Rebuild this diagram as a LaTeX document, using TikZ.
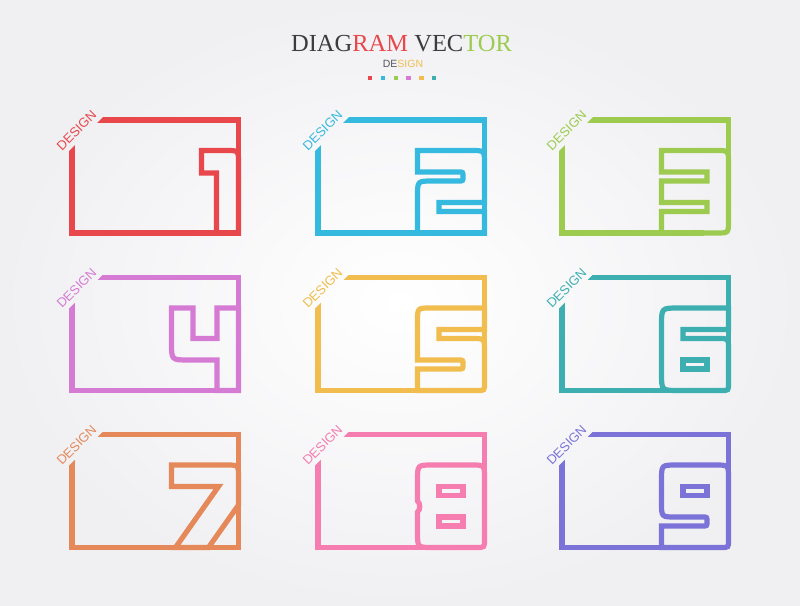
\documentclass[tikz,border=0pt]{standalone}
\usepackage{fontspec}
\setmainfont{Liberation Serif}
\newfontfamily\sansf{Liberation Sans}
\definecolor{c1}{RGB}{232,71,75}
\definecolor{c2}{RGB}{54,185,222}
\definecolor{c3}{RGB}{156,203,79}
\definecolor{c4}{RGB}{213,123,211}
\definecolor{c5}{RGB}{240,189,78}
\definecolor{c6}{RGB}{61,175,176}
\definecolor{c7}{RGB}{229,137,90}
\definecolor{c8}{RGB}{245,125,175}
\definecolor{c9}{RGB}{123,115,215}
\definecolor{tgray}{RGB}{60,60,62}
\definecolor{sgray}{RGB}{85,85,90}
\definecolor{bgout}{RGB}{240,240,243}
\tikzset{
  fr/.style={line width=5.2pt},
  gl/.style={line width=5.2pt, line join=miter},
  lbl/.style={font=\sansf\fontsize{13}{13}\selectfont, rotate=45, inner sep=0pt},
  sq/.style={minimum size=4.5pt, inner sep=0pt, outer sep=0pt, draw=none}
}
\newcommand\frameSq{%
  \begin{scope}
    \clip (-10,38) -- (38,-10) -- (180,-10) -- (180,125) -- (-10,125) -- cycle;
    \draw[fr] (0,20) -- (0,113) -- (166.5,113) -- (166.5,0) -- (20,0);
  \end{scope}}
\newcommand\frameRd{%
  \begin{scope}
    \clip (-10,38) -- (38,-10) -- (180,-10) -- (180,125) -- (-10,125) -- cycle;
    \draw[fr] (0,20) -- (0,113) -- (141.5,113);
    \draw[fr] (166.5,88) -- (166.5,0) -- (20,0);
  \end{scope}}
\begin{document}
\begin{tikzpicture}[x=1pt,y=-1pt]
\useasboundingbox (0,0) rectangle (800,605);
\shade[inner color=white, outer color=bgout] (0,0) rectangle (800,605);

% title
\node[anchor=base, inner sep=0pt] (title) at (401.5,51.7)
  {\fontsize{24.5}{24.5}\selectfont\color{tgray}DIAG\color{c1}RAM \color{tgray}VEC\color{c3}TOR};
\node[anchor=base, inner sep=0pt] (sub) at (403,67.7)
  {\sansf\fontsize{10.5}{10.5}\selectfont\color{sgray}DE\color{c5}SIGN};
\node[sq, fill=c1] (s1) at (370,78) {};
\node[sq, fill=c2] (s2) at (383,78) {};
\node[sq, fill=c3] (s3) at (396,78) {};
\node[sq, fill=c4] (s4) at (408.7,78) {};
\node[sq, fill=c5] (s5) at (421.3,78) {};
\node[sq, fill=c6] (s6) at (434,78) {};

% ---- box 1
\begin{scope}[shift={(72,120)}, draw=c1, text=c1]
  \frameSq
  \begin{scope}[shift={(129.5,30.5)}]
    \draw[gl] (0,0) -- (25,0) .. controls (37,0) .. (37,12) -- (37,82.5) -- (15,82.5) -- (15,22.5) -- (0,22.5) -- cycle;
  \end{scope}
  \node[lbl] (d1) at (4.5,10.5) {DESIGN};
\end{scope}

% ---- box 2
\begin{scope}[shift={(318,120)}, draw=c2, text=c2]
  \frameSq
  \begin{scope}[shift={(99.5,30.5)}]
    \draw[gl] (0,0) -- (54,0) .. controls (67,0) .. (67,13) -- (67,52) -- (21.5,52) -- (21.5,61) -- (67,61) -- (67,82.5) -- (5,82.5) .. controls (0,82.5) .. (0,77.5) -- (0,45.5) .. controls (0,30.5) .. (15,30.5) -- (41,30.5) .. controls (45.5,30.5) .. (45.5,26) .. controls (45.5,21.5) .. (41,21.5) -- (0,21.5) -- cycle;
  \end{scope}
  \node[lbl] (d2) at (4.5,10.5) {DESIGN};
\end{scope}

% ---- box 3
\begin{scope}[shift={(562,120)}, draw=c3, text=c3]
  \frameRd
  \begin{scope}[shift={(99.5,30.5)}]
    \draw[gl] (0,0) -- (55,0) .. controls (67,0) .. (67,12) -- (67,70.5) .. controls (67,82.5) .. (55,82.5) -- (0,82.5) -- (0,61) -- (45.5,61) -- (45.5,52) -- (0,52) -- (0,30.5) -- (45.5,30.5) -- (45.5,21.5) -- (0,21.5) -- cycle;
  \end{scope}
  \node[lbl] (d3) at (4.5,10.5) {DESIGN};
\end{scope}

% ---- box 4
\begin{scope}[shift={(72,277.5)}, draw=c4, text=c4]
  \frameSq
  \begin{scope}[shift={(99.5,30.5)}]
    \draw[gl] (0,0) -- (21.5,0) -- (21.5,30.5) -- (45.5,30.5) -- (45.5,0) -- (67,0) -- (67,82.5) -- (45.5,82.5) -- (45.5,52) -- (17,52) .. controls (0,52) .. (0,35) -- cycle;
  \end{scope}
  \node[lbl] (d4) at (4.5,10.5) {DESIGN};
\end{scope}

% ---- box 5
\begin{scope}[shift={(318,277.5)}, draw=c5, text=c5]
  \frameRd
  \begin{scope}[shift={(99.5,30.5)}]
    \draw[gl] (0,30) -- (0,13) .. controls (0,0) .. (13,0) -- (67,0) -- (67,21.5) -- (21.5,21.5) -- (21.5,30.5) -- (55,30.5) .. controls (67,30.5) .. (67,42.5) -- (67,75.5) .. controls (67,82.5) .. (60,82.5) -- (0,82.5) -- (0,61) -- (41,61) .. controls (45.5,61) .. (45.5,56.5) .. controls (45.5,52) .. (41,52) -- (0,52) -- cycle;
  \end{scope}
  \node[lbl] (d5) at (4.5,10.5) {DESIGN};
\end{scope}

% ---- box 6
\begin{scope}[shift={(562,277.5)}, draw=c6, text=c6]
  \frameRd
  \begin{scope}[shift={(99.5,30.5)}]
    \draw[gl] (0,30) -- (0,17) .. controls (0,0) .. (17,0) -- (67,0) -- (67,21.5) -- (21.5,21.5) -- (21.5,30.5) -- (57,30.5) .. controls (67,30.5) .. (67,40.5) -- (67,75.5) .. controls (67,82.5) .. (60,82.5) -- (17,82.5) .. controls (0,82.5) .. (0,65.5) -- cycle;
    \draw[gl] (21.5,52) rectangle (45.5,61);
  \end{scope}
  \node[lbl] (d6) at (4.5,10.5) {DESIGN};
\end{scope}

% ---- box 7
\begin{scope}[shift={(72,434.5)}, draw=c7, text=c7]
  \frameSq
  \begin{scope}[shift={(99.5,30.5)}]
    \draw[gl] (0,0) -- (55,0) .. controls (67,0) .. (67,12) -- (67,40) -- (37,82.5) -- (4,82.5) -- (47,21.5) -- (0,21.5) -- cycle;
  \end{scope}
  \node[lbl] (d7) at (4.5,10.5) {DESIGN};
\end{scope}

% ---- box 8
\begin{scope}[shift={(318,434.5)}, draw=c8, text=c8]
  \frameRd
  \begin{scope}[shift={(99.5,30.5)}]
    \draw[gl] (0,25) -- (0,15) .. controls (0,0) .. (15,0) -- (54,0) .. controls (67,0) .. (67,13) -- (67,74.5) .. controls (67,82.5) .. (59,82.5) -- (15,82.5) .. controls (0,82.5) .. (0,67.5) -- (0,47) .. controls (3,45) and (3,38) .. (0,36) -- cycle;
    \draw[gl] (21.5,21.5) rectangle (45.5,30.5);
    \draw[gl] (21.5,52) rectangle (45.5,61);
  \end{scope}
  \node[lbl] (d8) at (4.5,10.5) {DESIGN};
\end{scope}

% ---- box 9
\begin{scope}[shift={(562,434.5)}, draw=c9, text=c9]
  \frameRd
  \begin{scope}[shift={(99.5,30.5)}]
    \draw[gl] (0,25) -- (0,15) .. controls (0,0) .. (15,0) -- (54,0) .. controls (67,0) .. (67,13) -- (67,75.5) .. controls (67,82.5) .. (60,82.5) -- (0,82.5) -- (0,61) -- (41,61) .. controls (45.5,61) .. (45.5,56.5) .. controls (45.5,52) .. (41,52) -- (14,52) .. controls (0,52) .. (0,38) -- cycle;
    \draw[gl] (21.5,21.5) rectangle (45.5,30.5);
  \end{scope}
  \node[lbl] (d9) at (4.5,10.5) {DESIGN};
\end{scope}
\end{tikzpicture}
\end{document}
